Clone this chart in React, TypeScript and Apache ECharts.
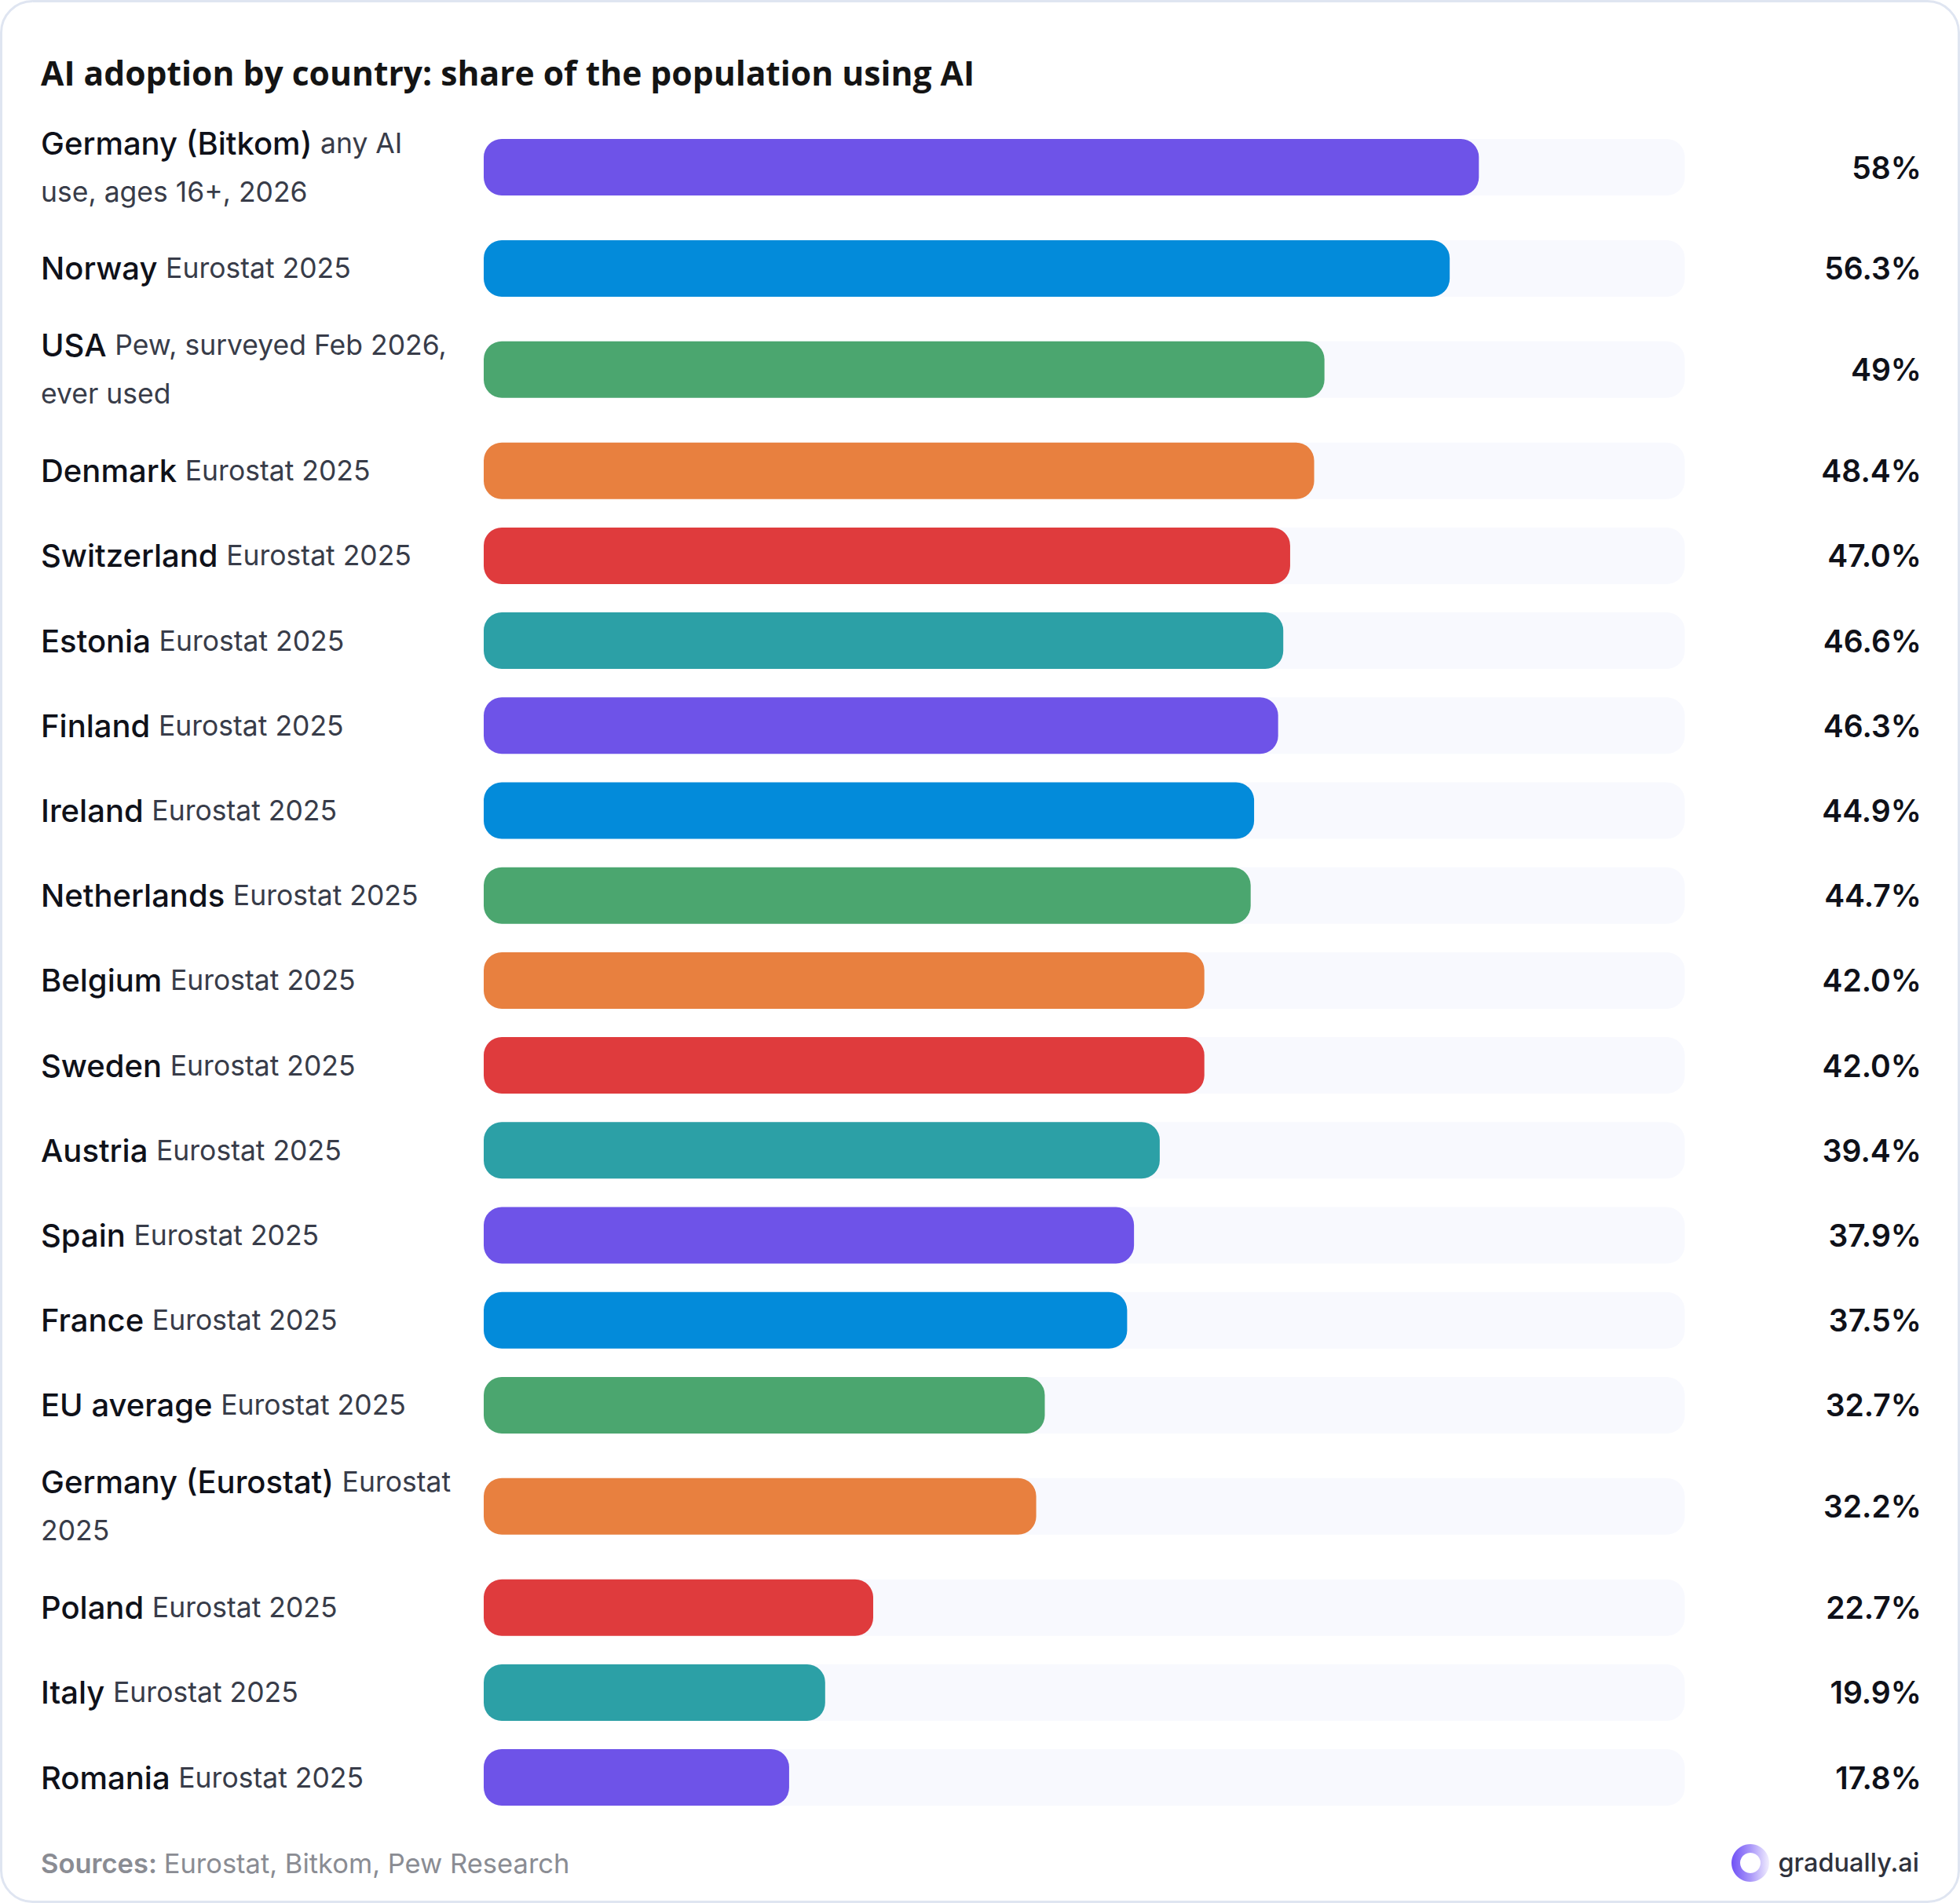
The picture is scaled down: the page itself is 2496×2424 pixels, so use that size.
import React, { useEffect, useRef } from "react";
import * as echarts from "echarts";

const countries = [
  "Germany (Bitkom)", "Norway", "USA", "Denmark", "Switzerland", "Estonia", "Finland",
  "Ireland", "Netherlands", "Belgium", "Sweden", "Austria", "Spain", "France",
  "EU average", "Germany (Eurostat)", "Poland", "Italy", "Romania",
];
const notes = [
  "any AI\nuse, ages 16+, 2026", "Eurostat 2025", "Pew, surveyed Feb 2026,\never used",
  "Eurostat 2025", "Eurostat 2025", "Eurostat 2025", "Eurostat 2025", "Eurostat 2025",
  "Eurostat 2025", "Eurostat 2025", "Eurostat 2025", "Eurostat 2025", "Eurostat 2025",
  "Eurostat 2025", "Eurostat 2025", "Eurostat\n2025", "Eurostat 2025", "Eurostat 2025",
  "Eurostat 2025",
];
const values = [58, 56.3, 49, 48.4, 47.0, 46.6, 46.3, 44.9, 44.7, 42.0, 42.0, 39.4, 37.9, 37.5, 32.7, 32.2, 22.7, 19.9, 17.8];
const valueLabels = [
  "58%", "56.3%", "49%", "48.4%", "47.0%", "46.6%", "46.3%", "44.9%", "44.7%", "42.0%",
  "42.0%", "39.4%", "37.9%", "37.5%", "32.7%", "32.2%", "22.7%", "19.9%", "17.8%",
];
const palette = ["#6e53e8", "#038bda", "#4ba66f", "#e8803f", "#df3b3d", "#2ca0a6"];
const X_MAX = 70;

const W = 2496;
const H = 2424;
const FIRST_TOP = 138.2;
const ROW_H = 108.2;
const LINE_EXTRA = 41.4;
const BAR_H = 72;
const RADIUS = 23;
const LABEL_X = 52;
const VALUE_X = 2447;
const TRACK = "#f8f9fe";

function rowCenters(): number[] {
  const out: number[] = [];
  let top = FIRST_TOP;
  notes.forEach((n) => {
    const h = ROW_H + (n.split("\n").length - 1) * LINE_EXTRA;
    out.push(top + h / 2);
    top += h;
  });
  return out;
}

export default function App() {
  const ref = useRef<HTMLDivElement>(null);
  useEffect(() => {
    document.body.style.margin = "0";
    if (!ref.current) return;
    const chart = echarts.init(ref.current, null, { renderer: "svg" });
    const centers = rowCenters();
    const data = values.map((v, i) => [v, centers[i]]);
    const rich = {
      n: { fontFamily: "Inter", fontSize: 40, fontWeight: 500, fill: "#0f1119", lineHeight: 62 },
      d: { fontFamily: "Inter", fontSize: 35.5, fontWeight: 400, fill: "#383c49", lineHeight: 62 },
    };
    chart.setOption({
      animation: false,
      grid: { left: 616, right: W - 2145.5, top: 0, bottom: 0, containLabel: false },
      xAxis: { type: "value", min: 0, max: X_MAX, show: false },
      yAxis: { type: "value", min: 0, max: H, inverse: true, show: false },
      graphic: [
        {
          type: "rect",
          z: 0,
          shape: { x: 1.5, y: 1.5, width: W - 3, height: H - 3, r: 40 },
          style: { fill: "#ffffff", stroke: "#dfe5f1", lineWidth: 3 },
        },
        {
          type: "text",
          z: 1,
          x: LABEL_X,
          y: 92,
          style: {
            text: "AI adoption by country: share of the population using AI",
            fontFamily: "Open Sans",
            fontSize: 42.6,
            fontWeight: 700,
            fill: "#141414",
            verticalAlign: "middle",
          },
        },
        {
          type: "text",
          z: 1,
          x: LABEL_X,
          y: 2373,
          style: {
            text: "{b|Sources: }{r|Eurostat, Bitkom, Pew Research}",
            verticalAlign: "middle",
            rich: {
              b: { fontFamily: "Inter", fontSize: 34.5, fontWeight: 600, fill: "#8a8c93" },
              r: { fontFamily: "Inter", fontSize: 34.5, fontWeight: 400, fill: "#8a8c93" },
            },
          },
        },
        {
          type: "ring",
          z: 1,
          shape: { cx: 2229, cy: 2373, r: 24, r0: 13 },
          style: {
            fill: new echarts.graphic.LinearGradient(0, 0, 1, 0, [
              { offset: 0, color: "#7051f6" },
              { offset: 0.5, color: "#a996f9" },
              { offset: 1, color: "#f1eefe" },
            ]),
          },
        },
        {
          type: "text",
          z: 1,
          x: 2444,
          y: 2372,
          style: {
            text: "gradually.ai",
            fontFamily: "Inter",
            fontSize: 32.5,
            fontWeight: 500,
            fill: "#2f323c",
            align: "right",
            verticalAlign: "middle",
          },
        },
      ],
      series: [
        {
          type: "custom",
          z: 2,
          encode: { x: 0, y: 1 },
          data,
          renderItem: (params: any, api: any) => {
            const i = params.dataIndex;
            const v = api.value(0);
            const cyv = api.value(1);
            const start = api.coord([0, cyv]);
            const end = api.coord([v, cyv]);
            const full = api.coord([X_MAX, cyv]);
            const cy = start[1];
            const lines = notes[i].split("\n");
            let text = `{n|${countries[i]} }{d|${lines[0]}}`;
            for (let k = 1; k < lines.length; k++) text += `\n{d|${lines[k]}}`;
            return {
              type: "group",
              children: [
                {
                  type: "rect",
                  shape: { x: start[0], y: cy - BAR_H / 2, width: full[0] - start[0], height: BAR_H, r: RADIUS },
                  style: { fill: TRACK },
                },
                {
                  type: "rect",
                  shape: { x: start[0], y: cy - BAR_H / 2, width: end[0] - start[0], height: BAR_H, r: RADIUS },
                  style: { fill: palette[i % palette.length] },
                },
                {
                  type: "text",
                  x: LABEL_X,
                  y: cy,
                  style: { text, rich, align: "left", verticalAlign: "middle" },
                },
                {
                  type: "text",
                  x: VALUE_X,
                  y: cy,
                  style: {
                    text: valueLabels[i],
                    fontFamily: "Inter",
                    fontSize: 39,
                    fontWeight: 600,
                    fill: "#0f1119",
                    align: "right",
                    verticalAlign: "middle",
                  },
                },
              ],
            };
          },
        },
      ],
    });
    return () => chart.dispose();
  }, []);
  return <div ref={ref} style={{ width: W, height: H }} />;
}
